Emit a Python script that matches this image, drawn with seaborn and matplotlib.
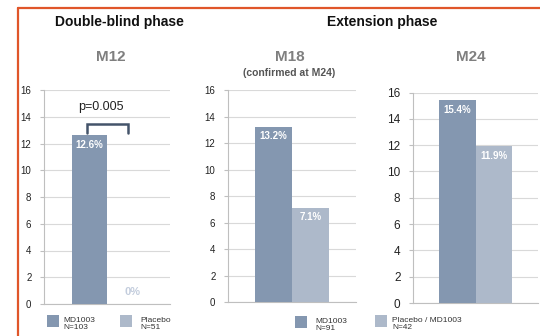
import matplotlib
matplotlib.use("Agg")
import matplotlib.pyplot as plt
from matplotlib.patches import Rectangle
from matplotlib.lines import Line2D
import seaborn as sns
import pandas as pd

# Response rates (%) per visit and treatment arm
visits = ["M12", "M18", "M24"]
arms = ["MD1003", "Placebo"]
m12_values = [12.6, 0.0]
m18_values = [13.2, 7.1]
m24_values = [15.4, 11.9]
yticks = [0, 2, 4, 6, 8, 10, 12, 14, 16]
p_value_text = "p=0.005"

DARK = "#8497b0"
LIGHT = "#adb9ca"
palette = {"MD1003": DARK, "Placebo": LIGHT}

sns.set_theme(style="white")
plt.rcParams["font.family"] = ["Liberation Sans", "DejaVu Sans"]

W, H = 540, 336
fig = plt.figure(figsize=(W / 100, H / 100), dpi=100)
fig.patch.set_facecolor("white")


def px_axes(left, right, top, bottom):
    return fig.add_axes([left / W, 1 - bottom / H, (right - left) / W, (bottom - top) / H])


panels = [
    ("M12", m12_values, px_axes(44, 170, 90, 304), 0.556, 7),
    ("M18", m18_values, px_axes(228, 356, 90, 302), 0.58, 7),
    ("M24", m24_values, px_axes(413, 538, 92.5, 303), 0.58, 8.5),
]

for visit, vals, ax, width, tick_fs in panels:
    df = pd.DataFrame({"visit": [visit] * len(arms), "arm": arms, "rate": vals})
    sns.barplot(data=df, x="visit", y="rate", hue="arm", palette=palette,
                width=width, dodge=True, legend=False, ax=ax, saturation=1,
                edgecolor="none", zorder=3)
    ax.set_xlim(-0.5, 0.5)
    ax.set_ylim(0, 16)
    ax.set_yticks(yticks)
    ax.set_xticks([])
    ax.set_xlabel("")
    ax.set_ylabel("")
    ax.grid(axis="y", color="#d9d9d9", linewidth=0.8, zorder=0)
    ax.set_axisbelow(True)
    for side in ["top", "right"]:
        ax.spines[side].set_visible(False)
    for side in ["left", "bottom"]:
        ax.spines[side].set_color("#bfbfbf")
        ax.spines[side].set_linewidth(0.8)
    ax.tick_params(axis="y", left=True, length=3, width=0.8, color="#bfbfbf",
                   labelsize=tick_fs, labelcolor="#222222", pad=6)
    ax.set_facecolor("white")

    # value labels inside the bars
    for bar, val in zip(ax.patches, vals):
        cx = bar.get_x() + bar.get_width() / 2
        if val > 0:
            ax.annotate(f"{val:g}%", (cx, val), xytext=(0, -3), textcoords="offset points",
                        ha="center", va="top", color="white", fontsize=7,
                        fontweight="bold", zorder=5)
        else:
            ax.annotate(f"{val:g}%", (cx, val), xytext=(6, 5), textcoords="offset points",
                        ha="center", va="bottom", color="#c3cddd", fontsize=8,
                        fontweight="bold", zorder=5)

# significance bracket on M12
ax1 = panels[0][2]
bars1 = ax1.patches
x_a = bars1[0].get_x() + bars1[0].get_width() / 2 - 0.02
x_b = bars1[1].get_x() + bars1[1].get_width() / 2 + 0.03
ax1.plot([x_a, x_a, x_b, x_b], [12.75, 13.45, 13.45, 12.75], color="#44546a",
         linewidth=1.8, solid_joinstyle="miter", zorder=6, clip_on=False)
ax1.text((x_a + x_b) / 2 - 0.05, 14.75, p_value_text, ha="center", va="center",
         fontsize=9, color="#222222")

# headings
fig.text(119 / W, 1 - 22 / H, "Double-blind phase", ha="center", va="center",
         fontsize=10, fontweight="bold", color="#111111")
fig.text(382 / W, 1 - 22 / H, "Extension phase", ha="center", va="center",
         fontsize=10, fontweight="bold", color="#111111")
fig.text(111 / W, 1 - 57 / H, "M12", ha="center", va="center",
         fontsize=11, fontweight="bold", color="#7f7f7f")
fig.text(290 / W, 1 - 57 / H, "M18", ha="center", va="center",
         fontsize=11, fontweight="bold", color="#7f7f7f")
fig.text(289 / W, 1 - 73 / H, "(confirmed at M24)", ha="center", va="center",
         fontsize=7.5, fontweight="bold", color="#555555")
fig.text(471 / W, 1 - 57 / H, "M24", ha="center", va="center",
         fontsize=11, fontweight="bold", color="#7f7f7f")

# legend swatches with group sizes
legend_items = [
    (47, 315, DARK, "MD1003\nN=103", 63),
    (120, 315, LIGHT, "Placebo\nN=51", 140),
    (295, 316, DARK, "MD1003\nN=91", 315),
    (375, 315, LIGHT, "Placebo / MD1003\nN=42", 392),
]
for x0, y0, col, label, tx in legend_items:
    fig.patches.append(Rectangle((x0 / W, 1 - (y0 + 11.5) / H), 11.5 / W, 11.5 / H,
                                 transform=fig.transFigure, facecolor=col,
                                 edgecolor="none"))
    fig.text(tx / W, 1 - (y0 + 9) / H, label, ha="left", va="center",
             fontsize=6, color="#333333", linespacing=1.1)

# orange frame on top and left
frame_col = "#e0562a"
fig.lines.append(Line2D([18 / W, 1.0], [1 - 8 / H, 1 - 8 / H], transform=fig.transFigure,
                        color=frame_col, linewidth=1.6))
fig.lines.append(Line2D([18 / W, 18 / W], [0.0, 1 - 8 / H], transform=fig.transFigure,
                        color=frame_col, linewidth=1.6))

fig.savefig("out.png", dpi=100, facecolor="white")
